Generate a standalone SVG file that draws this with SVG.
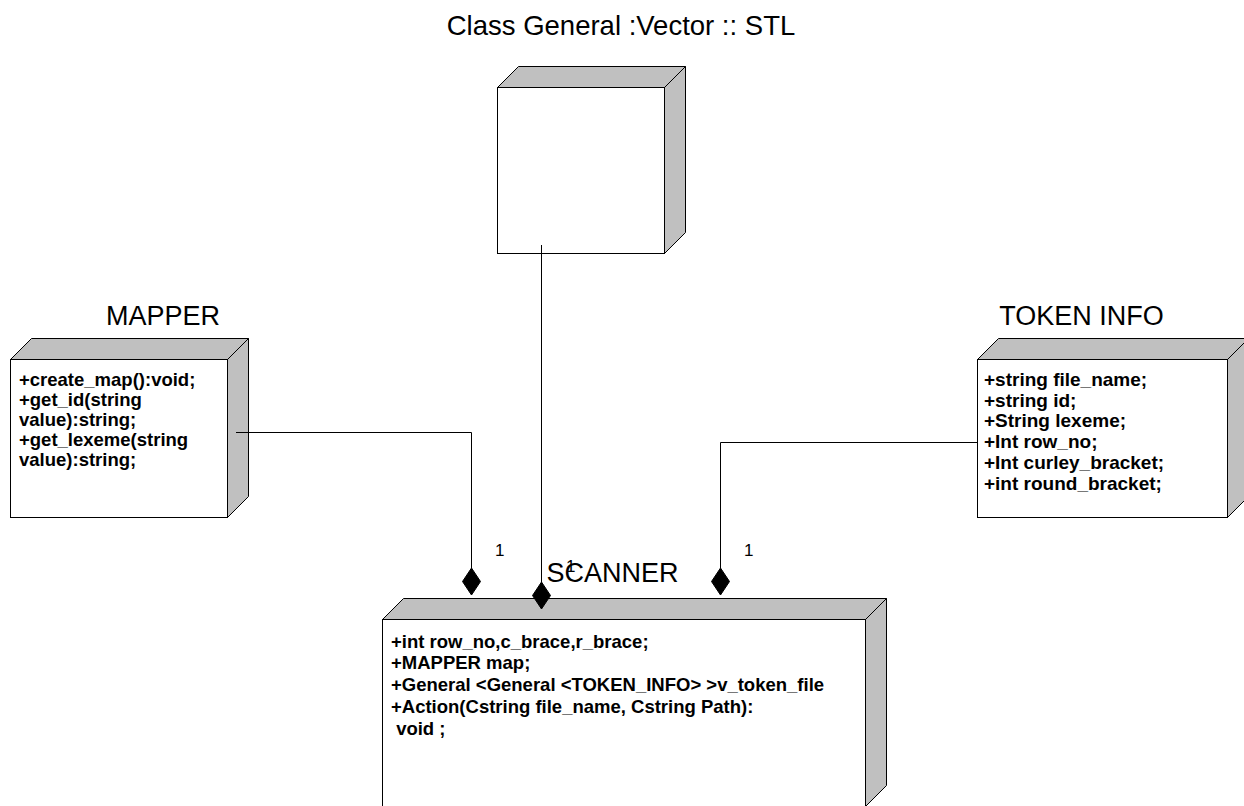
<svg xmlns="http://www.w3.org/2000/svg" width="1244" height="806" viewBox="0 0 1244 806">
<style>
.front{fill:#ffffff;stroke:#000;stroke-width:1}
.shade{fill:#c0c0c0;stroke:#000;stroke-width:1;stroke-linejoin:miter}
.title{font-family:"Liberation Sans",Arial,sans-serif;font-size:27px;fill:#000}
.body{font-family:"Liberation Sans",Arial,sans-serif;font-size:18.5px;font-weight:bold;fill:#000}
.mult{font-family:"Liberation Sans",Arial,sans-serif;font-size:17px;fill:#000}
.conn{fill:none;stroke:#000;stroke-width:1}
.dia{fill:#000;stroke:#000;stroke-width:1}
</style>
<rect width="1244" height="806" fill="#ffffff"/>
<text class="title" x="621" y="35" text-anchor="middle" style="font-size:27.5px">Class General :Vector :: STL</text>

<g id="vector">
<polygon class="shade" points="497.5,87.5 518.5,66.5 685.5,66.5 664.5,87.5"/>
<polygon class="shade" points="664.5,87.5 685.5,66.5 685.5,232.5 664.5,253.5"/>
<rect class="front" x="497.5" y="87.5" width="167" height="166"/>
</g>

<g id="mapper">
<text class="title" x="163" y="325" text-anchor="middle">MAPPER</text>
<polygon class="shade" points="10.5,359.5 31.5,338.5 248.5,338.5 227.5,359.5"/>
<polygon class="shade" points="227.5,359.5 248.5,338.5 248.5,496.5 227.5,517.5"/>
<rect class="front" x="10.5" y="359.5" width="217" height="158"/>
<text class="body" x="19" y="386">+create_map():void;</text>
<text class="body" x="19" y="406">+get_id(string</text>
<text class="body" x="19" y="426">value):string;</text>
<text class="body" x="19" y="446">+get_lexeme(string</text>
<text class="body" x="19" y="466">value):string;</text>
</g>

<g id="token_info">
<text class="title" x="1081.5" y="325" text-anchor="middle">TOKEN INFO</text>
<polygon class="shade" points="977.5,359.5 998.5,338.5 1248.5,338.5 1227.5,359.5"/>
<polygon class="shade" points="1227.5,359.5 1248.5,338.5 1248.5,496.5 1227.5,517.5"/>
<rect class="front" x="977.5" y="359.5" width="250" height="158"/>
<text class="body" x="984" y="386" style="font-size:19px">+string file_name;</text>
<text class="body" x="984" y="406.7" style="font-size:19px">+string id;</text>
<text class="body" x="984" y="427.4" style="font-size:19px">+String lexeme;</text>
<text class="body" x="984" y="448.1" style="font-size:19px">+Int row_no;</text>
<text class="body" x="984" y="468.8" style="font-size:19px">+Int curley_bracket;</text>
<text class="body" x="984" y="489.5" style="font-size:19px">+int round_bracket;</text>
</g>

<g id="scanner">
<text class="title" x="612.5" y="582" text-anchor="middle">SCANNER</text>
<polygon class="shade" points="382.5,619.5 403.5,598.5 886.5,598.5 865.5,619.5"/>
<polygon class="shade" points="865.5,619.5 886.5,598.5 886.5,785.5 865.5,806.5"/>
<rect class="front" x="382.5" y="619.5" width="483" height="187"/>
<text class="body" x="391" y="647.5">+int row_no,c_brace,r_brace;</text>
<text class="body" x="391" y="669.3">+MAPPER map;</text>
<text class="body" x="391" y="691">+General &lt;General &lt;TOKEN_INFO&gt; &gt;v_token_file</text>
<text class="body" x="391" y="713">+Action(Cstring file_name, Cstring Path):</text>
<text class="body" x="391" y="735" xml:space="preserve"> void ;</text>
</g>

<g id="connectors">
<polyline class="conn" points="236,432.5 471.5,432.5 471.5,568"/>
<polygon class="dia" points="471.5,568 480.5,581.5 471.5,595 462.5,581.5"/>
<text class="mult" x="495" y="556">1</text>
<line class="conn" x1="541.5" y1="245" x2="541.5" y2="582"/>
<polygon class="dia" points="541.5,582 550.5,595.5 541.5,609 532.5,595.5"/>
<text class="mult" x="566" y="572">1</text>
<polyline class="conn" points="977,442.5 720.5,442.5 720.5,568"/>
<polygon class="dia" points="720.5,568 729.5,581.5 720.5,595 711.5,581.5"/>
<text class="mult" x="744" y="556">1</text>
</g>
</svg>
